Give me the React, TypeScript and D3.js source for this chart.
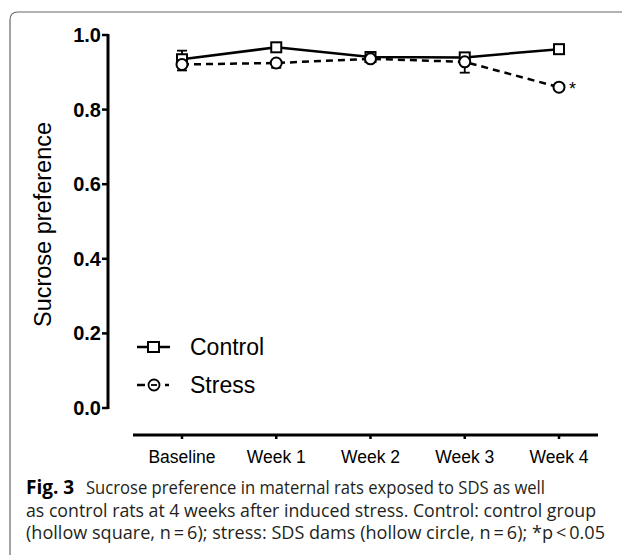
import React from "react";
import * as d3 from "d3";

// Sucrose preference over time, mean ± SEM
const timepoints = ["Baseline", "Week 1", "Week 2", "Week 3", "Week 4"];
const controlMean = [0.935, 0.967, 0.941, 0.94, 0.962];
const controlSem = [0.023, 0.006, 0.005, 0.006, 0.005];
const stressMean = [0.921, 0.925, 0.936, 0.928, 0.86];
const stressSem = [0.016, 0.013, 0.005, 0.029, 0.005];
const significant = [false, false, false, false, true];
const yTicks = [0, 0.2, 0.4, 0.6, 0.8, 1.0];

const captionLines = [
  { bold: "Fig. 3", text: "Sucrose preference in maternal rats exposed to SDS as well", width: 459 },
  { bold: "", text: "as control rats at 4 weeks after induced stress. Control: control group", width: 570 },
  { bold: "", text: "(hollow square, n\u2009=\u20096); stress: SDS dams (hollow circle, n\u2009=\u20096); *p\u2009<\u20090.05", width: 579 },
];

const W = 622;
const H = 555;
const ARIAL = "'Liberation Sans', Arial, sans-serif";
const CAPTION_FONT = "'Open Sans', 'Noto Sans', sans-serif";

export default function App() {
  const x = d3.scalePoint<string>().domain(timepoints).range([182, 559]);
  const y = d3.scaleLinear().domain([0, 1]).range([408, 35]);
  const axisX = 108;
  const xAxisY = 435;

  const line = d3
    .line<number>()
    .x((_, i) => x(timepoints[i]) as number)
    .y((d) => y(d));

  const sq = 10;
  const r = 5.5;

  return (
    <svg
      width={W}
      height={H}
      style={{ position: "absolute", left: 0, top: 0, display: "block", background: "#fff" }}
    >
      {/* frame */}
      <path
        d={`M10,${H} L10,20 Q10,12 18,12 L${W},12`}
        fill="none"
        stroke="#666"
        strokeWidth={1.2}
      />

      {/* y axis */}
      <line x1={axisX} x2={axisX} y1={y(1) - 1} y2={y(0) + 1} stroke="#000" strokeWidth={3} />
      {yTicks.map((t) => (
        <g key={t}>
          <line x1={axisX - 6} x2={axisX} y1={y(t)} y2={y(t)} stroke="#000" strokeWidth={2.5} />
          <text
            x={axisX - 7}
            y={y(t)}
            dy="0.35em"
            textAnchor="end"
            fontFamily={ARIAL}
            fontWeight="bold"
            fontSize={20}
          >
            {d3.format(".1f")(t)}
          </text>
        </g>
      ))}
      <text
        transform={`translate(43,${(y(0) + y(1)) / 2 + 3}) rotate(-90)`}
        textAnchor="middle"
        dy="0.35em"
        fontFamily={ARIAL}
        fontSize={23.5}
      >
        Sucrose preference
      </text>

      {/* x axis */}
      <line x1={133} x2={598} y1={xAxisY} y2={xAxisY} stroke="#000" strokeWidth={3} />
      {timepoints.map((tp) => (
        <g key={tp}>
          <line
            x1={x(tp)}
            x2={x(tp)}
            y1={xAxisY}
            y2={xAxisY + 4}
            stroke="#000"
            strokeWidth={2.5}
          />
          <text
            x={x(tp)}
            y={xAxisY + 28}
            textAnchor="middle"
            fontFamily={ARIAL}
            fontSize={17.5}
          >
            {tp}
          </text>
        </g>
      ))}

      {/* error bars */}
      {controlMean.map((m, i) => {
        const cx = x(timepoints[i]) as number;
        return (
          <g key={"ce" + i} stroke="#000" strokeWidth={1.8}>
            <line x1={cx} x2={cx} y1={y(m)} y2={y(m + controlSem[i])} />
            <line x1={cx - 5} x2={cx + 5} y1={y(m + controlSem[i])} y2={y(m + controlSem[i])} />
          </g>
        );
      })}
      {stressMean.map((m, i) => {
        const cx = x(timepoints[i]) as number;
        return (
          <g key={"se" + i} stroke="#000" strokeWidth={1.8}>
            <line x1={cx} x2={cx} y1={y(m)} y2={y(m - stressSem[i])} />
            <line x1={cx - 5} x2={cx + 5} y1={y(m - stressSem[i])} y2={y(m - stressSem[i])} />
          </g>
        );
      })}

      {/* series lines */}
      <path d={line(controlMean) ?? ""} fill="none" stroke="#000" strokeWidth={2.5} />
      <path
        d={line(stressMean) ?? ""}
        fill="none"
        stroke="#000"
        strokeWidth={2.5}
        strokeDasharray="7,5"
      />

      {/* markers */}
      {controlMean.map((m, i) => (
        <rect
          key={"cm" + i}
          x={(x(timepoints[i]) as number) - sq / 2}
          y={y(m) - sq / 2}
          width={sq}
          height={sq}
          fill="#fff"
          stroke="#000"
          strokeWidth={2}
        />
      ))}
      {stressMean.map((m, i) => (
        <circle
          key={"sm" + i}
          cx={x(timepoints[i]) as number}
          cy={y(m)}
          r={r}
          fill="#fff"
          stroke="#000"
          strokeWidth={2}
        />
      ))}
      {stressMean.map((m, i) =>
        significant[i] ? (
          <text
            key={"sig" + i}
            x={(x(timepoints[i]) as number) + 10}
            y={y(m) + 8}
            fontFamily={ARIAL}
            fontSize={18}
          >
            *
          </text>
        ) : null
      )}

      {/* legend */}
      <g>
        <line x1={137} x2={170} y1={347} y2={347} stroke="#000" strokeWidth={2.5} />
        <rect x={148} y={342} width={11} height={10} fill="#fff" stroke="#000" strokeWidth={2} />
        <text x={190} y={347} dy="0.35em" fontFamily={ARIAL} fontSize={23}>
          Control
        </text>
        <line x1={137} x2={145} y1={385} y2={385} stroke="#000" strokeWidth={2.5} />
        <circle cx={154} cy={385} r={5.5} fill="#fff" stroke="#000" strokeWidth={1.8} />
        <line x1={151} x2={157} y1={385} y2={385} stroke="#000" strokeWidth={1.8} />
        <line x1={165} x2={169} y1={385} y2={385} stroke="#000" strokeWidth={2.5} />
        <text x={190} y={385} dy="0.35em" fontFamily={ARIAL} fontSize={23}>
          Stress
        </text>
      </g>

      {/* caption */}
      {captionLines.map((ln, i) => {
        const baseY = 494 + i * 22.5;
        const startX = ln.bold ? 86 : 26;
        return (
          <g key={"cap" + i}>
            {ln.bold ? (
              <text
                x={26}
                y={baseY}
                fontFamily={CAPTION_FONT}
                fontWeight="bold"
                fontSize={19}
                fill="#000"
              >
                {ln.bold}
              </text>
            ) : null}
            <text
              x={startX}
              y={baseY}
              fontFamily={CAPTION_FONT}
              fontSize={18}
              fill="#231f20"
              textLength={ln.width}
              lengthAdjust="spacingAndGlyphs"
            >
              {ln.text}
            </text>
          </g>
        );
      })}
    </svg>
  );
}
